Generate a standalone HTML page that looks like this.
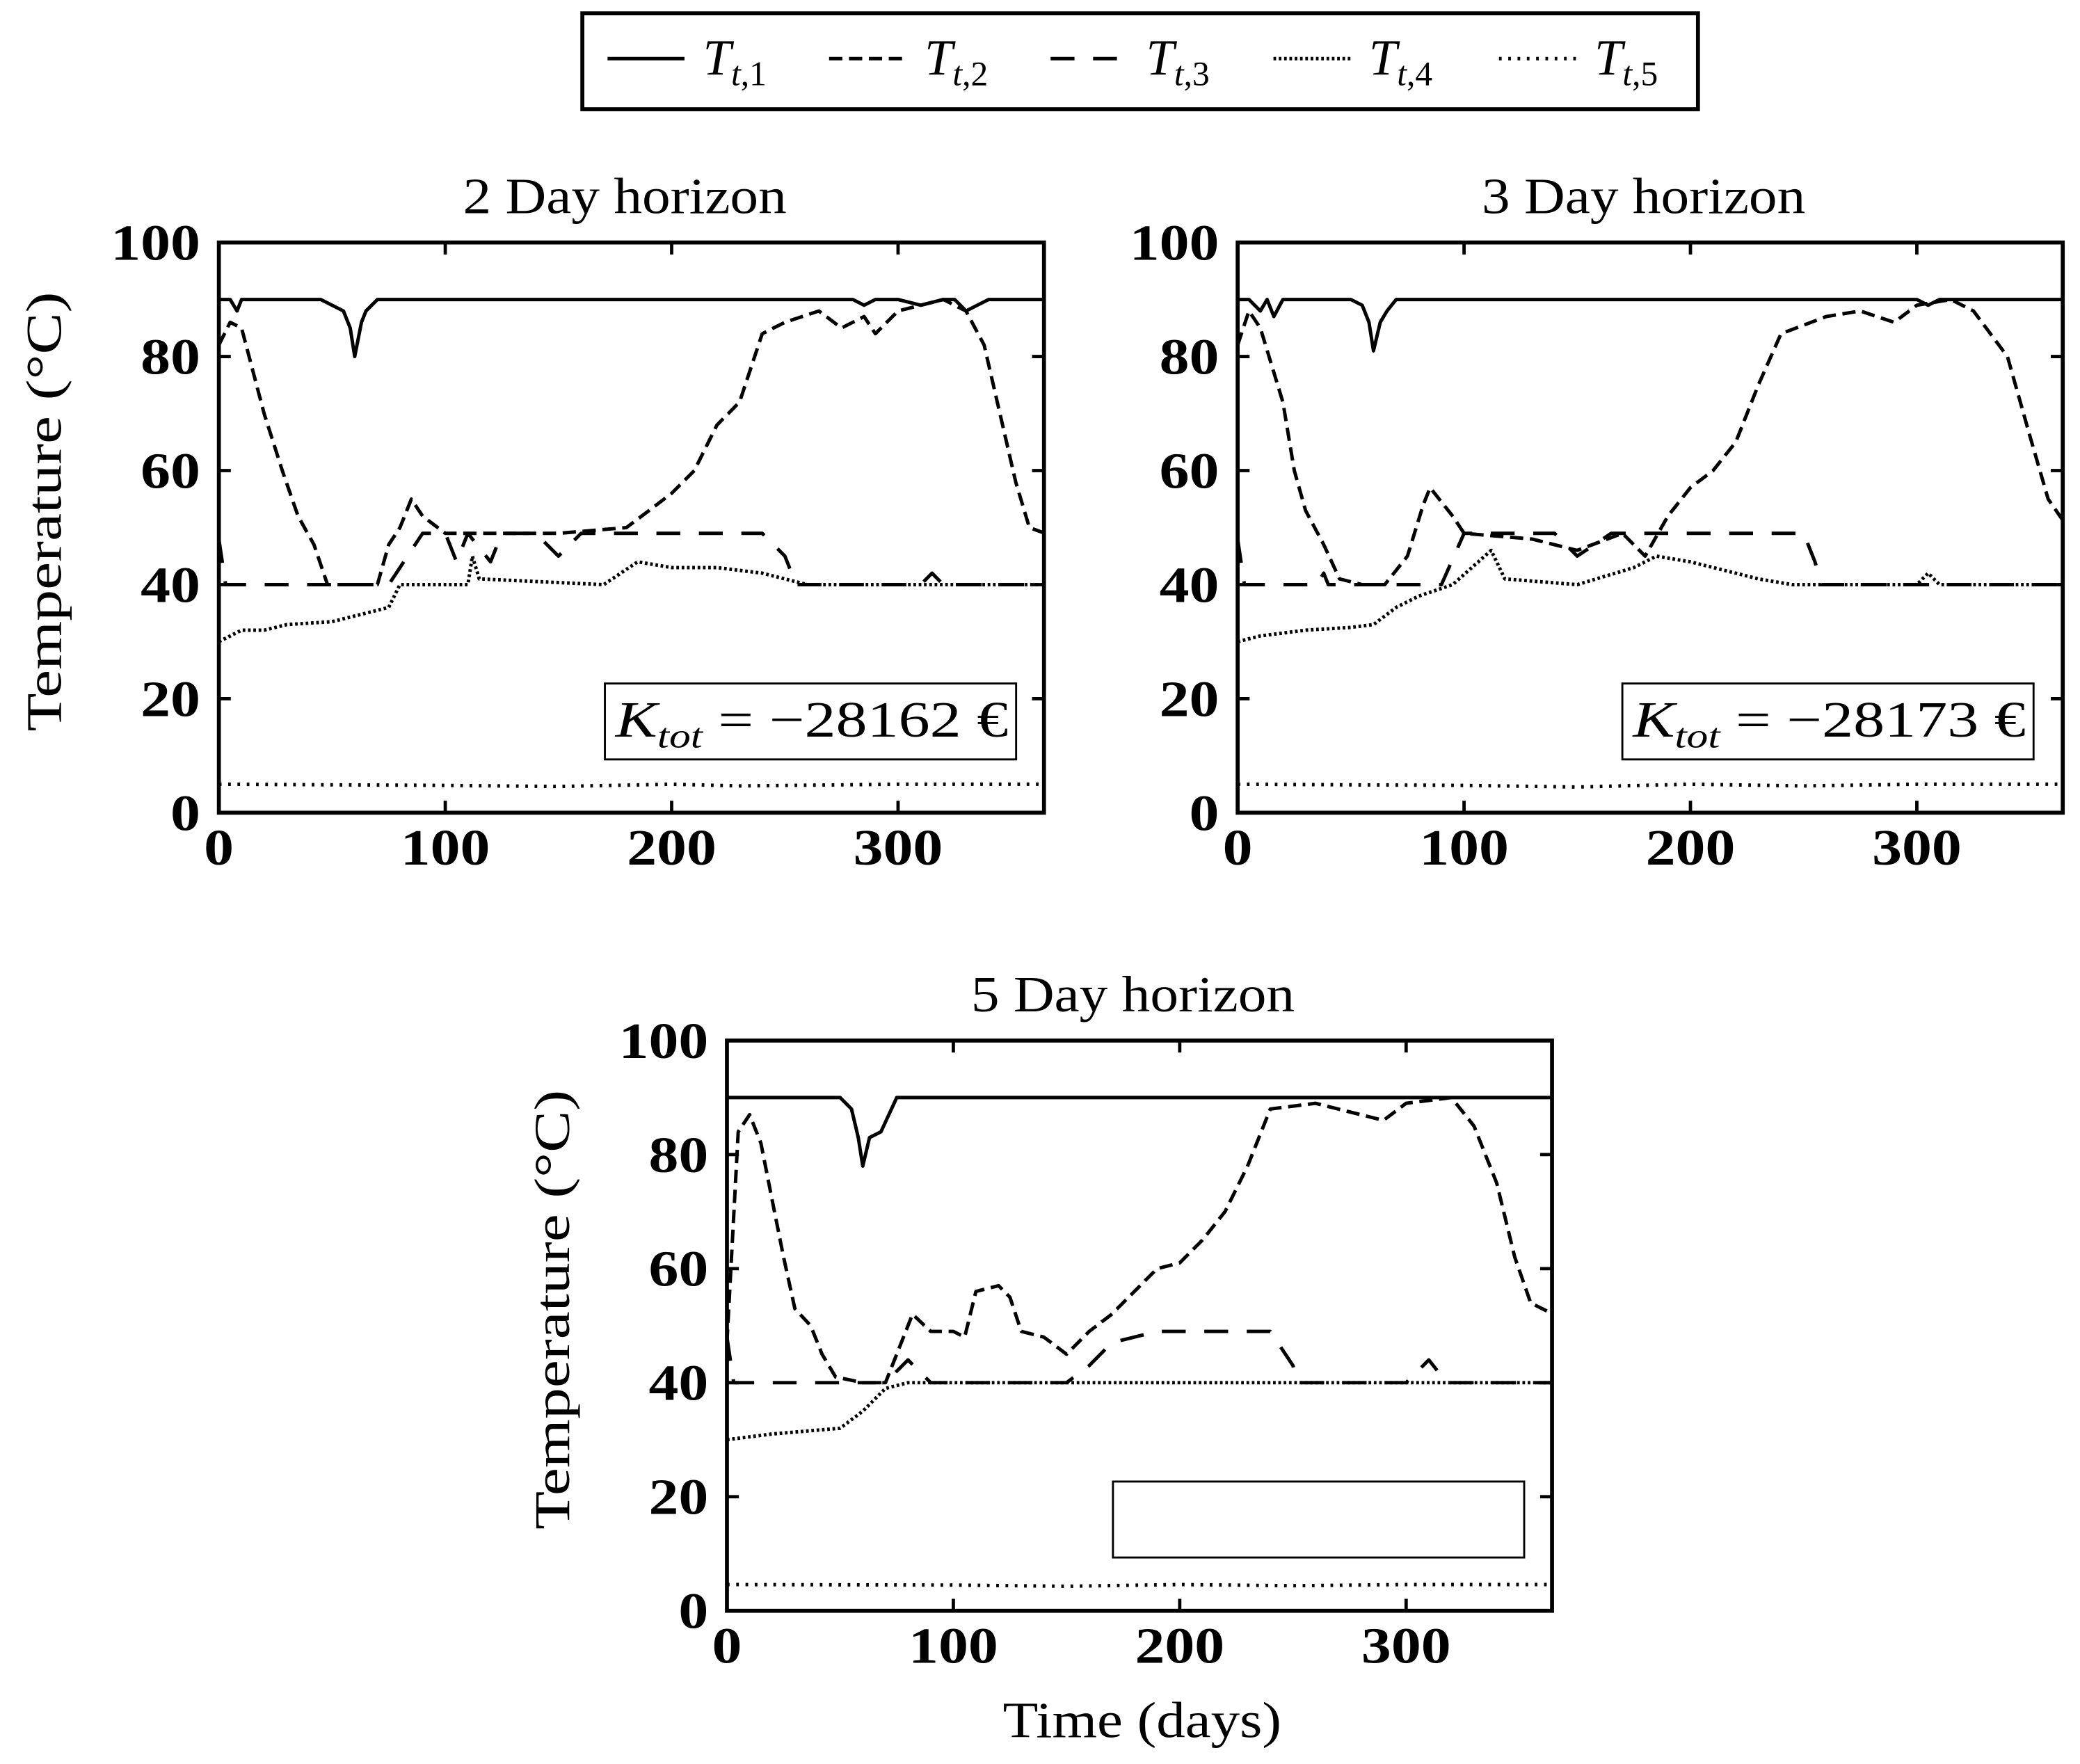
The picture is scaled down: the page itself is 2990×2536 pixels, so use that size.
<!DOCTYPE html>
<html><head><meta charset="utf-8"><style>
html,body{margin:0;padding:0;background:#fff}
svg{display:block}
text{font-family:"Liberation Serif",serif;fill:#000}
</style></head><body>
<svg id="fig" width="2990" height="2536" viewBox="0 0 1568 1324" preserveAspectRatio="none" xmlns="http://www.w3.org/2000/svg">
<g id="legend">
<rect x="439" y="10" width="841" height="72" fill="#fff" stroke="#000" stroke-width="3"/>
</g>
</svg>
<script>
// ===== Data =====
const xTicks=[0,100,200,300];
const yTicks=[0,20,40,60,80,100];
const panelTitles=["2 Day horizon","3 Day horizon","5 Day horizon"];
const costLabels=["\u221228162 \u20ac","\u221228173 \u20ac",""];
const seriesNames=["T1","T2","T3","T4","T5"];

// Panel 1 (2 day)
const p1_t1_d=[0,5,8,10,45,50,55,58,60,63,65,70,75,100,280,285,290,300,310,320,325,330,335,340,365];
const p1_t1_v=[90,90,88,90,90,89,88,85,80,86,88,90,90,90,90,89,90,90,89,90,90,88,89,90,90];
const p1_t2_d=[0,5,10,20,28,35,42,48,70,75,80,85,90,100,150,180,190,200,210,220,230,240,250,265,275,285,290,300,310,320,330,338,345,352,358,365];
const p1_t2_v=[82,86,85,70,60,52,47,40,40,47,50,55,52,49,49,50,53,56,60,68,72,84,86,88,85,87,84,88,89,90,88,82,70,58,50,49];
const p1_t3_d=[0,3,75,90,100,105,110,120,125,140,150,160,240,250,255,310,315,320,365];
const p1_t3_v=[48,40,40,49,49,44,49,44,49,49,45,49,49,45,40,40,42,40,40];
const p1_t4_d=[0,10,20,30,50,65,75,80,110,112,115,170,185,200,220,240,260,365];
const p1_t4_v=[30,32,32,33,33.5,35,36,40,40,45,41,40,44,43,43,42,40,40];
const p1_t5_d=[0,100,150,200,230,300,365];
const p1_t5_v=[5,4.8,4.6,5,4.7,5,5];

// Panel 2 (3 day)
const p2_t1_d=[0,5,10,13,16,20,50,55,58,60,63,66,70,75,300,305,310,365];
const p2_t1_v=[90,90,88,90,87,90,90,89,86,81,86,88,90,90,90,89,90,90];
const p2_t2_d=[0,5,10,20,25,30,38,45,55,65,75,82,85,95,100,130,150,170,180,190,200,210,220,230,240,260,275,290,300,315,325,340,350,358,365];
const p2_t2_v=[82,88,85,72,60,53,47,41,40,40,45,54,57,52,49,48,46,49,45,52,57,60,65,75,84,87,88,86,89,90,88,80,66,55,51];
const p2_t3_d=[0,3,35,38,40,90,100,140,150,165,250,255,258,365];
const p2_t3_v=[48,40,40,42,40,40,49,49,45,49,49,44,40,40];
const p2_t4_d=[0,10,30,50,60,70,80,95,112,118,150,175,185,200,220,230,245,300,305,310,365];
const p2_t4_v=[30,31,32,32.5,33,36,38,40,46,41,40,43,45,44,42,41,40,40,42,40,40];
const p2_t5_d=[0,100,150,200,250,300,365];
const p2_t5_v=[5,4.8,4.5,5,4.7,5,5];

// Panel 3 (5 day)
const p3_t1_d=[0,50,55,58,60,63,68,75,365];
const p3_t1_v=[90,90,88,83,78,83,84,90,90];
const p3_t2_d=[0,5,10,15,20,25,30,37,42,48,60,70,75,82,90,100,105,110,120,125,130,140,150,160,170,180,190,200,210,220,230,240,260,270,290,300,320,330,340,348,355,365];
const p3_t2_v=[47,84,87,82,72,62,53,50,45,41,40,40,45,52,49,49,48,56,57,55,49,48,45,49,52,56,60,61,65,70,78,88,89,88,86,89,90,85,75,62,54,52];
const p3_t3_d=[0,3,70,75,80,90,150,160,170,190,240,250,252,300,310,318,365];
const p3_t3_v=[48,40,40,42,44,40,40,43,47,49,49,43,40,40,44,40,40];
const p3_t4_d=[0,20,50,60,70,80,365];
const p3_t4_v=[30,31,32,35,39,40,40];
const p3_t5_d=[0,100,150,200,250,300,365];
const p3_t5_v=[4.6,4.5,4.3,4.6,4.4,4.6,4.6];

const panelData=[
 [[p1_t1_d,p1_t1_v],[p1_t2_d,p1_t2_v],[p1_t3_d,p1_t3_v],[p1_t4_d,p1_t4_v],[p1_t5_d,p1_t5_v]],
 [[p2_t1_d,p2_t1_v],[p2_t2_d,p2_t2_v],[p2_t3_d,p2_t3_v],[p2_t4_d,p2_t4_v],[p2_t5_d,p2_t5_v]],
 [[p3_t1_d,p3_t1_v],[p3_t2_d,p3_t2_v],[p3_t3_d,p3_t3_v],[p3_t4_d,p3_t4_v],[p3_t5_d,p3_t5_v]]
];

// ===== Layout / styles =====
const NS="http://www.w3.org/2000/svg";
const svg=document.getElementById('fig');
const dashes=["none","10,5","18,14","2,2","2,5"];
const panels=[{L:165,T:182,W:622,H:428,ylab:true,xlab:false,bx:456},
              {L:933,T:182,W:622,H:428,ylab:false,xlab:false,bx:1223},
              {L:548,T:781,W:622,H:428,ylab:true,xlab:true,bx:839}];
function mk(tag,attrs,parent){const e=document.createElementNS(NS,tag);for(const k in attrs)e.setAttribute(k,attrs[k]);(parent||svg).appendChild(e);return e;}

panels.forEach((p,pi)=>{
 const xs=d=>p.L+d*(512/300);
 const ys=v=>p.T+p.H-v*p.H/100;
 const g=mk('g',{});
 
 
 const t=mk('text',{x:p.L+p.W/2-5,y:p.T-22,'text-anchor':'middle','font-size':38,textLength:244,lengthAdjust:'spacingAndGlyphs'},g);
 t.textContent=panelTitles[pi];
 
 
 panelData[pi].forEach((s,si)=>{
  const pts=s[0].map((d,i)=>xs(d).toFixed(1)+','+ys(s[1][i]).toFixed(1)).join(' ');
  const pl=mk('polyline',{points:pts,fill:'none',stroke:'#000','stroke-width':2.6,'stroke-dasharray':dashes[si],'stroke-linejoin':'round'},g);
  
  
 });
 const fr=mk('rect',{x:p.L,y:p.T,width:p.W,height:p.H,fill:'none',stroke:'#000','stroke-width':3},g);
 
 
 xTicks.forEach(v=>{
  const x=xs(v);
  mk('line',{x1:x,y1:p.T+p.H,x2:x,y2:p.T+p.H-9,stroke:'#000','stroke-width':2.5},g);
  mk('line',{x1:x,y1:p.T,x2:x,y2:p.T+9,stroke:'#000','stroke-width':2.5},g);
  const tl=mk('text',{x:x,y:p.T+p.H+39,'text-anchor':'middle','font-size':38,'font-weight':'bold',textLength:String(v).length*22.5,lengthAdjust:'spacingAndGlyphs'},g);
  tl.textContent=v;
  
  
 });
 yTicks.forEach(v=>{
  const y=ys(v);
  mk('line',{x1:p.L,y1:y,x2:p.L+9,y2:y,stroke:'#000','stroke-width':2.5},g);
  mk('line',{x1:p.L+p.W,y1:y,x2:p.L+p.W-9,y2:y,stroke:'#000','stroke-width':2.5},g);
  const tl=mk('text',{x:p.L-14,y:y+13,'text-anchor':'end','font-size':38,'font-weight':'bold',textLength:String(v).length*22.5,lengthAdjust:'spacingAndGlyphs'},g);
  tl.textContent=v;
  
  
 });
 const bx=mk('rect',{x:p.bx,y:p.T+p.H-97,width:310,height:57,fill:'#fff',stroke:'#000','stroke-width':1.5},g);
 
 
 if(costLabels[pi]){
  const ct=mk('text',{x:p.bx+8,y:p.T+p.H-57,'font-size':38,textLength:296,lengthAdjust:'spacingAndGlyphs'},g);
  ct.innerHTML='<tspan font-style="italic">K</tspan><tspan font-style="italic" font-size="26" dy="8">tot</tspan><tspan dy="-8">  =  '+costLabels[pi]+'</tspan>';
  
  
 }
 if(p.ylab){
  const yl=mk('text',{x:0,y:0,'text-anchor':'middle','font-size':38,textLength:330,lengthAdjust:'spacingAndGlyphs',transform:'translate('+(p.L-119)+','+(p.T+p.H/2-12)+') rotate(-90)'},g);
  yl.textContent='Temperature (°C)';
  
  
 }
 if(p.xlab){
  const xl=mk('text',{x:p.L+p.W/2+2,y:p.T+p.H+95,'text-anchor':'middle','font-size':38,textLength:210,lengthAdjust:'spacingAndGlyphs'},g);
  xl.textContent='Time (days)';
  
  
 }
});

const lg=document.getElementById('legend');
const legX=[458,625,792,960,1130];
const legSub=["1","2","3","4","5"];
legX.forEach((x,i)=>{
 const ln=mk('line',{x1:x,y1:44,x2:x+58,y2:44,stroke:'#000','stroke-width':2.6,'stroke-dasharray':dashes[i]},lg);
 
 
 const tx=mk('text',{x:x+72,y:56,'font-size':38},lg);
 tx.innerHTML='<tspan font-style="italic">T</tspan><tspan font-size="26" dy="8"><tspan font-style="italic">t</tspan>,'+legSub[i]+'</tspan>';
 
 
});
</script>
</body></html>
